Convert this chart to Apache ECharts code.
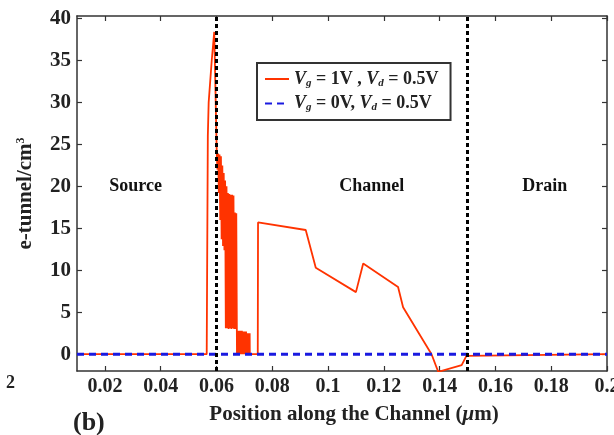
<!DOCTYPE html>
<html>
<head>
<meta charset="UTF-8">
<title>e-tunnel</title>
<script src="https://cdn.jsdelivr.net/npm/echarts@6/dist/echarts.min.js"></script>
<style>
    html, body { margin: 0; background: #fff; }
    #main { width: 614px; height: 435px; }
</style>
</head>
<body>
<div id="main"></div>
<script type="text/javascript">
    // axis ticks
    var xTicks = [0.02, 0.04, 0.06, 0.08, 0.1, 0.12, 0.14, 0.16, 0.18, 0.2];
    var yTicks = [0, 5, 10, 15, 20, 25, 30, 35, 40];
    // source / channel / drain boundaries and names
    var regionBounds = [0.06, 0.15];
    var regionNames = ['Source', 'Channel', 'Drain'];
    var regionX = [0.031, 0.1157, 0.1777];
    var regionY = 20;

    // Vg = 1V, Vd = 0.5V
    var vg1 = [
        [0.01, 0], [0.0565, 0], [0.0569, 26], [0.0572, 30], [0.0583, 35], [0.0592, 38.4],
        [0.0601, 24.0], [0.06035, 22.0], [0.0606, 23.9], [0.06085, 19.2], [0.0611, 23.8],
        [0.06135, 16.0], [0.0616, 23.6], [0.06185, 13.7], [0.0621, 22.5], [0.06235, 12.9],
        [0.0626, 21.6], [0.06285, 12.4], [0.0631, 20.7], [0.06335, 3.1], [0.0636, 20.0],
        [0.06385, 3.1], [0.0641, 19.2], [0.06435, 3.0], [0.0646, 19.1], [0.06485, 3.1],
        [0.0651, 19.0], [0.06535, 3.0], [0.0656, 19.0], [0.06585, 3.1], [0.0661, 18.9],
        [0.06635, 3.0], [0.0666, 16.9], [0.06685, 3.0], [0.0671, 16.8], [0.06735, 0],
        [0.0676, 2.8], [0.06785, 0], [0.0681, 2.8], [0.06835, 0], [0.0686, 2.8],
        [0.06885, 0], [0.0691, 2.8], [0.06935, 0], [0.0696, 2.7], [0.06985, 0],
        [0.0701, 2.7], [0.07035, 0], [0.0706, 2.7], [0.07085, 0], [0.0711, 2.5],
        [0.07135, 0], [0.0716, 2.5], [0.07185, 0], [0.0719, 2.5], [0.07195, 0],
        [0.0748, 0], [0.0749, 15.7], [0.092, 14.8], [0.0956, 10.3], [0.110, 7.4],
        [0.1126, 10.8], [0.1251, 8.0], [0.1269, 5.6], [0.1371, 0], [0.1395, -2.1],
        [0.1479, -1.3], [0.1496, -0.2], [0.15, 0], [0.2, 0]
    ];
    // Vg = 0V, Vd = 0.5V
    var vg0 = [[0.01, 0], [0.2, 0]];

    var font = 'Liberation Serif';
    var legendText = {
        'Vg = 1V , Vd = 0.5V': '{i|V}{s|g}{n| = 1V , }{i|V}{s|d}{n| = 0.5V}',
        'Vg = 0V, Vd = 0.5V': '{i|V}{s|g}{n| = 0V, }{i|V}{s|d}{n| = 0.5V}'
    };

    var regionData = [];
    for (var i = 0; i < regionNames.length; i++) {
        regionData.push({ value: [regionX[i], regionY], name: regionNames[i] });
    }

    var axisLine = { show: true, onZero: false, lineStyle: { color: '#333', width: 1.5 } };
    var tickIn = { inside: true, length: 5, lineStyle: { color: '#333', width: 1.2 } };

    var chart = echarts.init(document.getElementById('main'));
    chart.setOption({
        animation: false,
        textStyle: { fontFamily: font },
        grid: { left: 77, top: 16, right: 7, bottom: 64, outerBoundsMode: 'none', containLabel: false },
        legend: {
            data: ['Vg = 1V , Vd = 0.5V', 'Vg = 0V, Vd = 0.5V'],
            orient: 'vertical',
            left: 257, top: 63,
            padding: [7, 12, 7, 7],
            itemWidth: 24, itemHeight: 14, itemGap: 6,
            backgroundColor: '#fff',
            borderColor: '#333', borderWidth: 2, borderRadius: 0,
            itemStyle: { opacity: 0 },
            formatter: function (name) { return legendText[name]; },
            textStyle: {
                fontFamily: font, fontWeight: 'bold', fontSize: 18, color: '#222',
                rich: {
                    i: { fontFamily: font, fontStyle: 'italic', fontWeight: 'bold', fontSize: 18, color: '#222' },
                    s: { fontFamily: font, fontStyle: 'italic', fontWeight: 'bold', fontSize: 11, color: '#222', padding: [8, 0, 0, 0] },
                    n: { fontFamily: font, fontWeight: 'bold', fontSize: 18, color: '#222' }
                }
            }
        },
        xAxis: [{
            type: 'value', min: 0.01, max: 0.2,
            axisLine: axisLine,
            axisTick: Object.assign({ customValues: xTicks }, tickIn),
            axisLabel: { customValues: xTicks, margin: 6, fontFamily: font, fontWeight: 'bold', fontSize: 20, color: '#222' },
            splitLine: { show: false },
            name: 'Position along the Channel ({it|μ}m)',
            nameLocation: 'middle', nameGap: 33,
            nameTextStyle: {
                fontFamily: font, fontWeight: 'bold', fontSize: 21, color: '#222',
                padding: [0, 0, 0, 24],
                rich: { it: { fontFamily: font, fontStyle: 'italic', fontWeight: 'bold', fontSize: 21, color: '#222' } }
            }
        }, {
            type: 'value', min: 0.01, max: 0.2, position: 'top',
            axisLine: axisLine,
            axisTick: Object.assign({ customValues: xTicks }, tickIn),
            axisLabel: { show: false },
            splitLine: { show: false }
        }],
        yAxis: [{
            type: 'value', min: -2, max: 40.3,
            axisLine: axisLine,
            axisTick: Object.assign({ customValues: yTicks }, tickIn),
            axisLabel: { customValues: yTicks, margin: 6, fontFamily: font, fontWeight: 'bold', fontSize: 21, color: '#222' },
            splitLine: { show: false },
            name: '{a|e-tunnel/cm}{b|3}',
            nameLocation: 'middle', nameGap: 40, nameRotate: 90,
            nameTextStyle: {
                rich: {
                    a: { fontFamily: font, fontWeight: 'bold', fontSize: 21, color: '#222' },
                    b: { fontFamily: font, fontWeight: 'bold', fontSize: 12, color: '#222', padding: [0, 0, 10, 0] }
                }
            }
        }, {
            type: 'value', min: -2, max: 40.3, position: 'right',
            axisLine: axisLine,
            axisTick: Object.assign({ customValues: yTicks }, tickIn),
            axisLabel: { show: false },
            splitLine: { show: false }
        }],
        graphic: [
            { type: 'text', left: 6, top: 374, style: { text: '2', fontFamily: font, fontWeight: 'bold', fontSize: 18, fill: '#222' } },
            { type: 'text', left: 73, top: 410, style: { text: '(b)', fontFamily: font, fontWeight: 'bold', fontSize: 26, fill: '#222' } }
        ],
        series: [{
            name: 'Vg = 1V , Vd = 0.5V',
            type: 'line',
            data: vg1,
            symbol: 'none',
            lineStyle: { color: '#ff3300', width: 1.8 },
            itemStyle: { color: '#ff3300' },
            z: 2
        }, {
            name: 'Vg = 0V, Vd = 0.5V',
            type: 'line',
            data: vg0,
            symbol: 'none',
            lineStyle: { color: '#1a1ae0', width: 3, type: [7, 5] },
            itemStyle: { color: '#1a1ae0' },
            z: 3
        }, {
            type: 'line',
            data: [],
            z: 4,
            markLine: {
                silent: true,
                symbol: ['none', 'none'],
                label: { show: false },
                lineStyle: { color: '#000', width: 3, type: [4, 3] },
                data: regionBounds.map(function (b) { return { xAxis: b }; })
            }
        }, {
            type: 'scatter',
            data: regionData,
            symbolSize: 0,
            silent: true,
            itemStyle: { opacity: 1 },
            label: {
                show: true, position: 'inside',
                formatter: function (p) { return p.name; },
                fontFamily: font, fontWeight: 'bold', fontSize: 18, color: '#111'
            },
            z: 5
        }]
    });
</script>
</body>
</html>
